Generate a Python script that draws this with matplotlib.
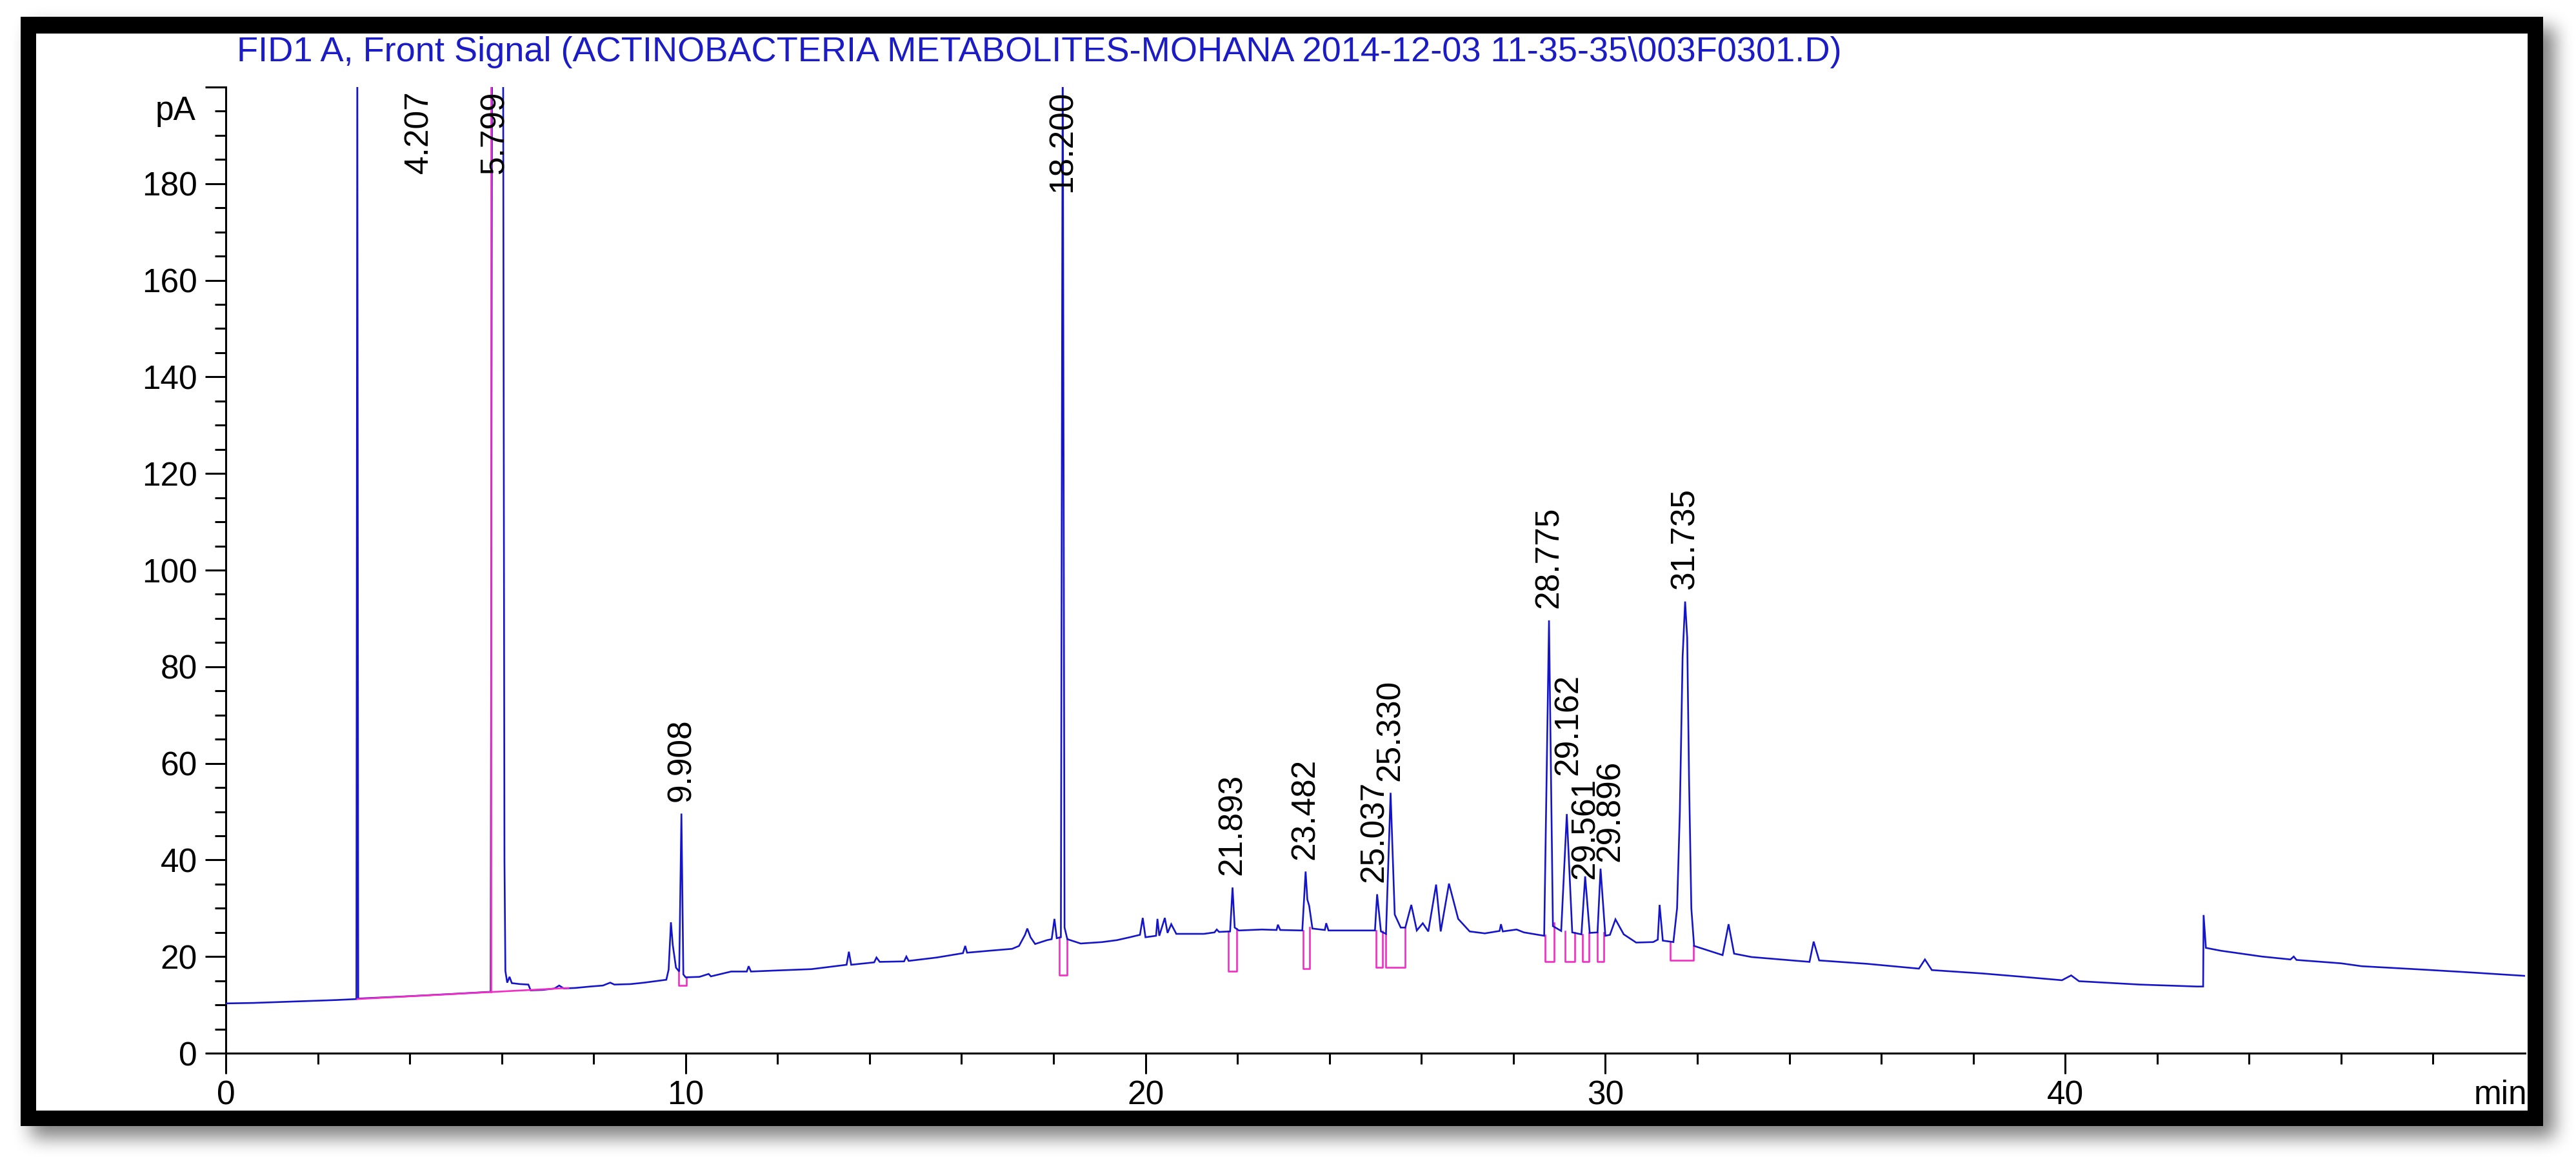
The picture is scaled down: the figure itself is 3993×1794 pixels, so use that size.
import numpy as np
import matplotlib
matplotlib.use("Agg")
import matplotlib.pyplot as plt
from matplotlib.patches import Rectangle
from matplotlib.ticker import FixedLocator, MultipleLocator
from matplotlib.transforms import blended_transform_factory

plt.rcParams['font.family'] = ['Liberation Sans', 'DejaVu Sans']

TITLE = r"FID1 A, Front Signal (ACTINOBACTERIA METABOLITES-MOHANA 2014-12-03 11-35-35\003F0301.D)"

OFF = 210  # off-scale peaks, clipped at the top of the axis

# signal (min, pA)
trace_0_10 = [
    (0.0, 10.3), (0.6, 10.4), (1.2, 10.6), (1.8, 10.8), (2.4, 11.0), (2.84, 11.2),
    (2.86, OFF), (2.88, 11.3),
    (4.0, 11.8), (5.0, 12.3), (5.76, 12.7),
    (5.79, OFF), (6.03, OFF),
    (6.06, 40.0), (6.08, 17.0), (6.12, 14.6), (6.17, 15.8), (6.22, 14.5), (6.40, 14.3),
    (6.58, 14.2), (6.63, 13.0), (6.90, 13.1), (7.15, 13.4), (7.25, 14.0), (7.35, 13.4),
    (7.60, 13.5), (7.93, 13.8), (8.20, 14.0), (8.36, 14.6), (8.45, 14.2), (8.80, 14.3),
    (9.10, 14.6), (9.58, 15.2), (9.63, 17.3), (9.68, 27.1), (9.72, 22.4), (9.79, 17.7),
    (9.86, 16.9), (9.908, 49.6), (9.95, 16.3), (10.0, 15.7),
]
trace_10_20 = [
    (10.30, 15.8), (10.50, 16.4), (10.55, 15.9), (10.99, 16.9), (11.33, 16.9), (11.37, 18.0),
    (11.42, 16.9), (11.93, 17.1), (12.74, 17.4), (13.24, 18.0), (13.50, 18.3), (13.55, 21.0),
    (13.60, 18.3), (14.10, 18.8), (14.15, 19.8), (14.22, 18.9), (14.75, 19.0), (14.80, 20.0),
    (14.85, 19.1), (15.46, 19.8), (16.03, 20.7), (16.08, 22.2), (16.12, 20.8), (16.60, 21.2),
    (17.10, 21.6), (17.25, 22.2), (17.38, 24.5), (17.43, 25.8), (17.50, 24.0), (17.60, 22.6),
    (17.86, 23.4), (17.96, 23.6), (18.02, 27.8), (18.07, 23.8), (18.16, 24.0),
    (18.200, OFF), (18.24, 26.0), (18.30, 23.6), (18.59, 22.7), (19.06, 23.0), (19.38, 23.4),
    (19.66, 24.0), (19.88, 24.5), (19.94, 28.0), (20.0, 24.0),
]
trace_20_27 = [
    (20.23, 24.3), (20.26, 27.8), (20.30, 24.3), (20.42, 28.0), (20.48, 24.9), (20.56, 26.7),
    (20.67, 24.7), (21.27, 24.7), (21.50, 25.0), (21.55, 25.6), (21.60, 25.1), (21.84, 25.2),
    (21.893, 34.3), (21.94, 26.0), (22.03, 25.4), (22.53, 25.6), (22.85, 25.5), (22.88, 26.6),
    (22.93, 25.5), (23.41, 25.4), (23.482, 37.6), (23.52, 31.8), (23.56, 30.5), (23.63, 25.8),
    (23.90, 25.5), (23.93, 26.9), (23.98, 25.4), (24.42, 25.4), (24.99, 25.4), (25.037, 32.9),
    (25.12, 25.2), (25.23, 24.7), (25.330, 53.9), (25.42, 28.7), (25.55, 26.0), (25.65, 26.0),
    (25.78, 30.7), (25.90, 25.4), (26.03, 26.9), (26.15, 25.2), (26.32, 34.9), (26.42, 25.2),
    (26.60, 35.1), (26.80, 27.8), (27.05, 25.2), (27.38, 24.8),
]
trace_27_33 = [
    (27.70, 25.3), (27.73, 26.7), (27.77, 25.2), (28.07, 25.6), (28.23, 25.0), (28.67, 24.3),
    (28.775, 89.6), (28.86, 26.3), (29.04, 25.3), (29.162, 49.5), (29.28, 25.0), (29.48, 24.6),
    (29.561, 36.6), (29.66, 24.9), (29.83, 25.0), (29.896, 38.2), (30.0, 24.3), (30.10, 24.5),
    (30.22, 27.7), (30.40, 24.6), (30.67, 22.9), (31.04, 23.0), (31.14, 23.5), (31.18, 30.7),
    (31.25, 23.3), (31.48, 23.0), (31.56, 30.0), (31.62, 50.0), (31.68, 82.0), (31.735, 93.5),
    (31.78, 86.0), (31.82, 57.0), (31.87, 30.0), (31.93, 22.2), (32.55, 20.3), (32.68, 26.7),
    (32.80, 20.6), (33.18, 19.9),
]
trace_33_50 = [
    (34.44, 18.9), (34.53, 23.1), (34.65, 19.2), (35.69, 18.5), (36.82, 17.5), (36.95, 19.4),
    (37.10, 17.2), (38.20, 16.5), (38.96, 15.9), (39.93, 15.1), (40.13, 16.1), (40.30, 14.9),
    (41.62, 14.2), (42.86, 13.8), (43.00, 13.8), (43.01, 28.6), (43.06, 21.8), (43.39, 21.2),
    (44.28, 20.0), (44.90, 19.4), (44.97, 20.0), (45.03, 19.3), (46.00, 18.6), (46.45, 18.0),
    (47.78, 17.3), (48.67, 16.8), (50.0, 16.0),
]

# integration baseline of the early peaks
early_base_t = [2.86, 7.45]
early_base_pA = [11.2, 13.5]
drop_t = 5.77
drop_pA = 12.7

# integration boxes under the labelled peaks
box_start = [9.85, 18.12, 21.80, 23.43, 25.02, 25.23, 28.69, 29.12, 29.51, 29.82, 31.41]
box_end = [10.02, 18.29, 21.98, 23.57, 25.16, 25.64, 28.88, 29.33, 29.64, 29.96, 31.92]
box_floor = [14.0, 16.1, 16.9, 17.5, 17.8, 17.8, 19.0, 19.0, 19.0, 19.0, 19.2]
box_top_left = [16.9, 24.0, 25.2, 25.4, 25.4, 24.7, 24.4, 25.3, 24.6, 25.0, 23.0]
box_top_right = [15.7, 23.8, 25.8, 26.0, 25.2, 26.0, 27.0, 25.0, 25.0, 25.0, 22.3]

# labelled retention times and apex heights (None = off scale)
peak_rt = ['4.207', '5.799', '9.908', '18.200', '21.893', '23.482', '25.037',
           '25.330', '28.775', '29.162', '29.561', '29.896', '31.735']
peak_top = [None, None, 49.6, None, 34.3, 37.6, 32.9, 53.9, 89.6, 49.5, 36.6, 38.2, 93.5]

# label placement tweaks (min shift, bottom in pA) where ChemStation moved them
label_dx = {'5.799': 0.05, '25.037': -0.06, '29.162': 0.04, '29.896': 0.22}
label_bottom = {'29.162': 57.5, '29.561': 36.1, '29.896': 39.6}
LABEL_GAP = 2.5

BLUE = '#1414c8'
PINK = '#f32cc6'
TITLE_BLUE = '#1c1cc4'
FS = 37

W, H = 3993, 1794
fig = plt.figure(figsize=(W / 100, H / 100), dpi=100)

# frame with a soft drop shadow, in pixel coordinates
bg = fig.add_axes([0, 0, 1, 1], zorder=-5)
bg.set_xlim(0, W)
bg.set_ylim(H, 0)
bg.axis('off')


def box_blur(a, r, axis):
    pad = [(0, 0), (0, 0)]
    pad[axis] = (r + 1, r)
    c = np.cumsum(np.pad(a, pad, mode='edge'), axis=axis)
    n = a.shape[axis]
    hi = np.take(c, np.arange(2 * r + 1, 2 * r + 1 + n), axis=axis)
    lo = np.take(c, np.arange(0, n), axis=axis)
    return (hi - lo) / (2 * r + 1)


s = 3
sh = np.zeros((H // s, W // s))
sh[(26 + 18) // s:(1746 + 18) // s, (32 + 18) // s:(3942 + 18) // s] = 1.0
for _ in range(3):
    sh = box_blur(sh, 4, 0)
    sh = box_blur(sh, 4, 1)
rgba = np.zeros(sh.shape + (4,))
rgba[..., 3] = 0.5 * sh
bg.imshow(rgba, extent=[0, W, H, 0], interpolation='bilinear', aspect='auto')
bg.add_patch(Rectangle((32, 26), 3910, 1720, facecolor='black', edgecolor='none'))
bg.add_patch(Rectangle((56, 52), 3862, 1670, facecolor='white', edgecolor='none'))

ax = fig.add_axes([350 / W, (H - 1633) / H, 3564 / W, 1498 / H])
ax.set_facecolor('none')

pts = trace_0_10 + trace_10_20 + trace_20_27 + trace_27_33 + trace_33_50
t = [p[0] for p in pts]
sig = [p[1] for p in pts]
ax.plot(t, sig, color=BLUE, lw=1.9, solid_joinstyle='miter', zorder=3)

ax.plot(early_base_t, early_base_pA, color=PINK, lw=1.9, zorder=4)
ax.plot([drop_t, drop_t], [drop_pA, OFF], color=PINK, lw=1.9, zorder=4)
for s0, e0, f0, tl, tr in zip(box_start, box_end, box_floor, box_top_left, box_top_right):
    ax.plot([s0, s0, e0, e0], [tl, f0, f0, tr], color=PINK, lw=1.9, zorder=2)

for rt, top in zip(peak_rt, peak_top):
    x = float(rt) + label_dx.get(rt, 0.0)
    if top is None:
        ax.text(x, 199.3, rt, rotation=90, ha='center', va='top', fontsize=FS, zorder=5)
    else:
        yb = label_bottom.get(rt, top + LABEL_GAP)
        ax.text(x, yb, rt, rotation=90, ha='center', va='bottom', fontsize=FS, zorder=5)

ax.set_xlim(0, 50)
ax.set_ylim(0, 200)
for side in ['top', 'right']:
    ax.spines[side].set_visible(False)
for side in ['left', 'bottom']:
    ax.spines[side].set_linewidth(2.2)

ax.set_xticks([0, 10, 20, 30, 40], ['0', '10', '20', '30', '40'])
ax.xaxis.set_minor_locator(FixedLocator(np.arange(2, 50, 2)))
yt = list(range(0, 201, 20))
ax.set_yticks(yt, [str(v) for v in yt[:-1]] + [''])
ax.yaxis.set_minor_locator(MultipleLocator(5))
ax.tick_params(which='major', direction='out', length=23, width=2.2, labelsize=FS)
ax.tick_params(which='minor', direction='out', length=12, width=2.2)
ax.tick_params(axis='x', which='major', pad=7)
ax.tick_params(axis='y', which='major', pad=9)

ax.text(-0.0129, 193.2, 'pA', transform=blended_transform_factory(ax.transAxes, ax.transData),
        ha='right', va='baseline', fontsize=FS)
fig.text(3917 / W, (H - 1712) / H, 'min', ha='right', va='baseline', fontsize=FS)
fig.text(367 / W, (H - 95) / H, TITLE, ha='left', va='baseline', fontsize=39, color=TITLE_BLUE)

fig.savefig('out.png', dpi=100)
